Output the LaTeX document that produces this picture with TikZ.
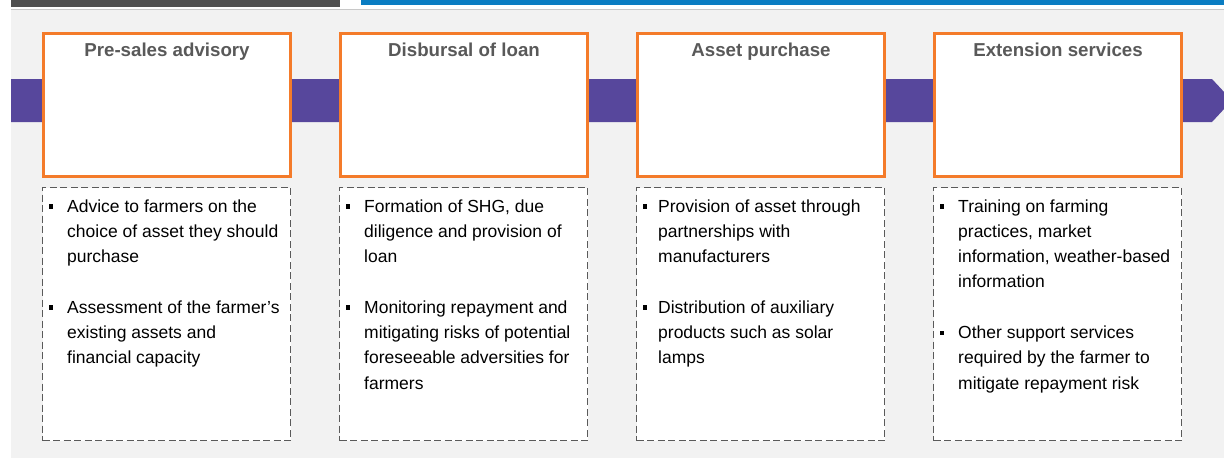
\documentclass[tikz,border=0pt]{standalone}
\usepackage{fontspec}
\setmainfont{Liberation Sans}
\definecolor{bgc}{HTML}{F2F2F2}
\definecolor{barc}{HTML}{505050}
\definecolor{bluec}{HTML}{0A7DC2}
\definecolor{linec}{HTML}{C8C8C8}
\definecolor{purp}{HTML}{57479C}
\definecolor{orng}{HTML}{F47B2A}
\definecolor{titc}{HTML}{595959}
\definecolor{dashc}{HTML}{5A5A5A}
\newcommand{\bultext}[1]{\parbox[t]{240pt}{\fontsize{17.5}{25.3}\selectfont\raggedright #1}}
\tikzset{
  x=1pt,y=-1pt,
  headbox/.style={draw=orng,line width=3pt,fill=white,minimum width=247pt,minimum height=143pt,inner sep=0pt},
  textbox/.style={draw=dashc,line width=1.3pt,dash pattern=on 7pt off 3.5pt,fill=white,minimum width=248pt,minimum height=253pt,inner sep=0pt},
  headtxt/.style={anchor=base,font=\fontsize{18.7}{22}\selectfont\bfseries,text=titc,inner sep=0pt},
  bultxt/.style={anchor=base west,text=black,inner sep=0pt},
  bulsq/.style={fill=black,minimum size=4.5pt,inner sep=0pt},
}
\begin{document}
\begin{tikzpicture}
\useasboundingbox (0,0) rectangle (1224,458);
\fill[white] (0,0) rectangle (1224,458);
\fill[bgc] (11,10) rectangle (1224,458);
\fill[barc] (11,0) rectangle (340,7);
\fill[bluec] (361,0) rectangle (1224,5);
\draw[linec,line width=1pt] (11,9.5) -- (1224,9.5);
\fill[purp] (11,79) -- (1212,79) -- (1232,100.5) -- (1212,122) -- (11,122) -- cycle;
% columns
\foreach \i/\t in {0/Pre-sales advisory,1/Disbursal of loan,2/Asset purchase,3/Extension services}{
  \pgfmathsetmacro{\xl}{42+297*\i}
  \node[headbox] (h\i) at (\xl+125,105) {};
  \node[headtxt] (ht\i) at (\xl+125,56) {\t};
  \node[textbox] (d\i) at (\xl+124.5,314) {};
  \node[bulsq] (ba\i) at (\xl+9,206.5) {};
}
\node[bulsq] (bb0) at (51,307.7) {};
\node[bulsq] (bb1) at (348,307.7) {};
\node[bulsq] (bb2) at (645,307.7) {};
\node[bulsq] (bb3) at (942,333) {};
\node[bultxt] (ta0) at (67,212) {\bultext{Advice to farmers on the\\choice of asset they should\\purchase}};
\node[bultxt] (tb0) at (67,313.2) {\bultext{Assessment of the farmer’s\\existing assets and\\financial capacity}};
\node[bultxt] (ta1) at (364,212) {\bultext{Formation of SHG, due\\diligence and provision of\\loan}};
\node[bultxt] (tb1) at (364,313.2) {\bultext{Monitoring repayment and\\mitigating risks of potential\\foreseeable adversities for\\farmers}};
\node[bultxt] (ta2) at (658,212) {\bultext{Provision of asset through\\partnerships with\\manufacturers}};
\node[bultxt] (tb2) at (658,313.2) {\bultext{Distribution of auxiliary\\products such as solar\\lamps}};
\node[bultxt] (ta3) at (958,212) {\bultext{Training on farming\\practices, market\\information, weather-based\\information}};
\node[bultxt] (tb3) at (958,338.5) {\bultext{Other support services\\required by the farmer to\\mitigate repayment risk}};
\end{tikzpicture}
\end{document}
